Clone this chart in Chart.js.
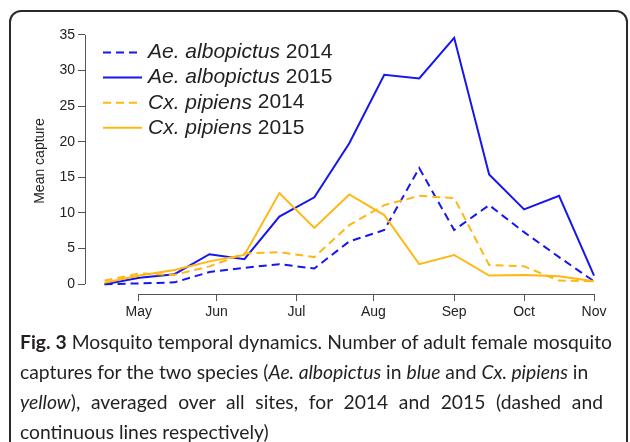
<!DOCTYPE html>
<html>
<head>
<meta charset="utf-8">
<script src="https://cdn.jsdelivr.net/npm/chart.js@4/dist/chart.umd.min.js"></script>
<style>
  html, body { margin: 0; padding: 0; background: #fff; }
  body { width: 630px; height: 442px; position: relative; overflow: hidden; }
  #frame {
    position: absolute; left: 9px; top: 10px; width: 615px; height: 470px;
    border: 2px solid #2a2a2a; border-radius: 12px;
  }
  #chart { position: absolute; left: 0; top: 0; }
  #cap {
    position: absolute; left: 20px; top: 327px;
    font-family: Lato, sans-serif; font-size: 19.3px; line-height: 30px;
    color: #231f20;
  }
  #cap div { white-space: nowrap; }
  #cap .j { text-align: justify; text-align-last: justify; }
</style>
</head>
<body>
<div id="frame"></div>
<canvas id="chart" width="630" height="330"></canvas>
<div id="cap">
  <div class="j" style="width:592px"><b>Fig. 3</b> Mosquito temporal dynamics. Number of adult female mosquito</div>
  <div>captures for the two species (<i>Ae. albopictus</i> in <i>blue</i> and <i>Cx. pipiens</i> in</div>
  <div class="j" style="width:583px"><i>yellow</i>), averaged over all sites, for 2014 and 2015 (dashed and</div>
  <div>continuous lines respectively)</div>
</div>
<script>
// sampling rounds (roughly every two weeks, May -> Nov)
var samples = [0, 1, 2, 3, 4, 5, 6, 7, 8, 9, 10, 11, 12, 13, 14];

var aeAlbo2014 = [0.0, 0.1, 0.25, 1.7, 2.3, 2.8, 2.2, 6.0, 7.6, 16.3, 7.6, 11.1, 7.3, 3.8, 0.4];
var aeAlbo2015 = [0.0, 0.9, 1.4, 4.2, 3.5, 9.5, 12.2, 19.8, 29.4, 28.9, 34.6, 15.4, 10.5, 12.4, 1.2];
var cxPip2014  = [0.5, 1.5, 1.3, 2.5, 4.3, 4.5, 3.8, 8.3, 11.1, 12.4, 12.1, 2.7, 2.5, 0.5, 0.4];
var cxPip2015  = [0.2, 1.2, 2.0, 3.2, 4.1, 12.8, 7.9, 12.6, 9.7, 2.8, 4.1, 1.2, 1.3, 1.1, 0.4];

var monthLabels = ['May', 'Jun', 'Jul', 'Aug', 'Sep', 'Oct', 'Nov'];
var monthPos    = [0.98, 3.2, 5.49, 7.69, 10.0, 12.0, 14.0];
var yTicks      = [0, 5, 10, 15, 20, 25, 30, 35];

var BLUE = '#1616ee';
var YELLOW = '#ffb714';
var TXT = '#222';
var AXIS = '#555';

function pts(vals) {
  return samples.map(function (s, i) { return {x: s, y: vals[i]}; });
}

// R-style axes: line only spans first..last tick, plus the legend
var rStyle = {
  id: 'rStyle',
  afterDraw: function (chart) {
    var ctx = chart.ctx, xs = chart.scales.x, ys = chart.scales.y;
    var area = chart.chartArea;
    ctx.save();
    ctx.strokeStyle = AXIS;
    ctx.lineWidth = 1;
    ctx.beginPath();
    ctx.moveTo(xs.getPixelForValue(monthPos[0]), Math.round(area.bottom) + 0.5);
    ctx.lineTo(xs.getPixelForValue(monthPos[monthPos.length - 1]), Math.round(area.bottom) + 0.5);
    ctx.moveTo(Math.round(area.left) + 0.5, ys.getPixelForValue(yTicks[0]));
    ctx.lineTo(Math.round(area.left) + 0.5, ys.getPixelForValue(yTicks[yTicks.length - 1]));
    ctx.stroke();

    // legend
    var x0 = 103, x1 = 142, tx = 148, y0 = 52.5, dy = 25.1;
    chart.data.datasets.forEach(function (ds, i) {
      var y = y0 + dy * i;
      ctx.strokeStyle = ds.borderColor;
      ctx.lineWidth = ds.borderWidth;
      ctx.setLineDash(ds.borderDash || []);
      ctx.beginPath();
      ctx.moveTo(x0, y);
      ctx.lineTo(x1, y);
      ctx.stroke();
      ctx.setLineDash([]);
      ctx.fillStyle = TXT;
      ctx.textBaseline = 'middle';
      ctx.textAlign = 'left';
      ctx.font = 'italic 21px "Liberation Sans", Arial, sans-serif';
      ctx.fillText(ds.species, tx, y);
      var w = ctx.measureText(ds.species + ' ').width;
      ctx.font = '21px "Liberation Sans", Arial, sans-serif';
      ctx.fillText(ds.year, tx + w, y);
    });
    ctx.restore();
  }
};

var ctx = document.getElementById('chart');
var myChart = new Chart(ctx, {
  type: 'line',
  data: {
    datasets: [
      {species: 'Ae. albopictus', year: '2014', label: 'Ae. albopictus 2014', data: pts(aeAlbo2014),
        borderColor: BLUE, borderWidth: 2, borderDash: [8, 5], order: 4},
      {species: 'Ae. albopictus', year: '2015', label: 'Ae. albopictus 2015', data: pts(aeAlbo2015),
        borderColor: BLUE, borderWidth: 2, order: 3},
      {species: 'Cx. pipiens', year: '2014', label: 'Cx. pipiens 2014', data: pts(cxPip2014),
        borderColor: YELLOW, borderWidth: 2, borderDash: [8, 5], order: 2},
      {species: 'Cx. pipiens', year: '2015', label: 'Cx. pipiens 2015', data: pts(cxPip2015),
        borderColor: YELLOW, borderWidth: 2, order: 1}
    ]
  },
  options: {
    responsive: false,
    animation: false,
    elements: {point: {radius: 0}, line: {tension: 0, fill: false}},
    layout: {padding: {left: 0, right: 16.4, top: 28, bottom: 0}},
    plugins: {legend: {display: false}, tooltip: {enabled: false}},
    scales: {
      x: {
        type: 'linear', min: -0.56, max: 14.56,
        afterBuildTicks: function (s) { s.ticks = monthPos.map(function (v) { return {value: v}; }); },
        afterFit: function (s) { s.height = 36; },
        grid: {display: true, drawOnChartArea: false, tickLength: 7, color: AXIS},
        border: {display: false},
        ticks: {
          autoSkip: false, maxRotation: 0, padding: 3, color: TXT,
          font: {family: '"Liberation Sans", Arial, sans-serif', size: 14},
          callback: function (v, i) { return monthLabels[i]; }
        }
      },
      y: {
        type: 'linear', min: -1.384, max: 35.98,
        afterBuildTicks: function (s) { s.ticks = yTicks.map(function (v) { return {value: v}; }); },
        afterFit: function (s) { s.width = 85; },
        grid: {display: true, drawOnChartArea: false, tickLength: 7, color: AXIS},
        border: {display: false},
        ticks: {
          padding: 3, color: TXT,
          font: {family: '"Liberation Sans", Arial, sans-serif', size: 14}
        },
        title: {
          display: true, text: 'Mean capture', color: TXT,
          font: {family: '"Liberation Sans", Arial, sans-serif', size: 14},
          padding: {top: 31.6, bottom: 0}
        }
      }
    }
  },
  plugins: [rStyle]
});
</script>
</body>
</html>
